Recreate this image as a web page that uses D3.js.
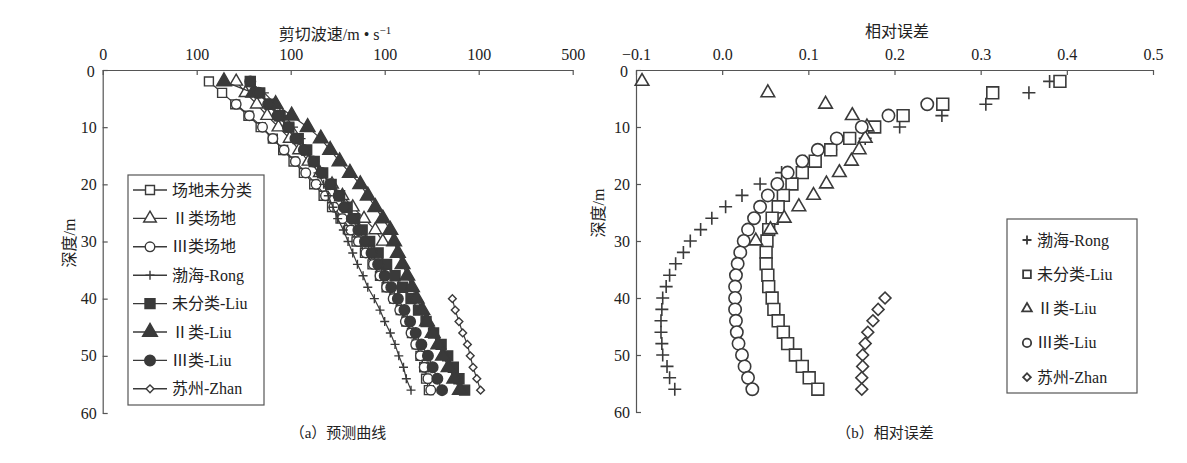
<!DOCTYPE html>
<html>
<head>
<meta charset="utf-8">
<script src="https://cdn.jsdelivr.net/npm/d3@7"></script>
<style>
  html, body { margin: 0; padding: 0; background: #ffffff; }
  svg { display: block; }
  text { font-family: "Liberation Serif", "Noto Sans CJK SC", serif; fill: #222; }
</style>
</head>
<body>
<svg id="chart" width="1187" height="463"></svg>
<script>
// ---------------- DATA ----------------
const depthAll   = [2,4,6,8,10,12,14,16,18,20,22,24,26,28,30,32,34,36,38,40,42,44,46,48,50,52,54,56];
const depthII    = [2,4,6,8,10,12,14,16,18,20,22,24,26,28,30];
const depthIII   = [6,8,10,12,14,16,18,20,22,24,26,28,30,32,34,36,38,40,42,44,46,48,50,52,54,56];
const depthZhan  = [40,42,44,46,48,50,52,54,56];

// (a) predicted shear wave velocity, m/s
const vsUnclassified    = [113,127,141,155,168,181,192,203,214,225,235,244,253,262,270,279,287,295,302,310,317,323,329,334,338,342,344,347];
const vsClassII         = [142,152,164,175,187,199,209,219,231,244,255,266,278,290,298];
const vsClassIII        = [142,156,170,181,193,205,216,227,237,246,255,264,272,280,288,295,302,309,316,322,328,333,338,342,346,349];
const vsRong            = [156,172,184,194,203,211,216,223,229,235,240,245,250,256,261,266,271,277,282,289,295,300,306,311,315,320,323,328];
const vsLiuUnclassified = [157,167,178,188,198,208,217,225,234,243,252,260,268,276,284,293,302,311,319,328,336,344,352,360,367,373,379,385];
const vsLiuII           = [129,160,184,201,218,232,242,252,263,274,282,290,298,306,310,314,319,324,329,334,340,345,351,357,362,368,374,380];
const vsLiuIII          = [157,166,176,186,197,205,214,224,233,242,251,257,265,272,279,286,293,300,307,314,321,327,333,339,346,351,356,361];
const vsZhan            = [372,375,379,383,388,391,394,398,402];

// (b) relative error
const errRong            = [0.380,0.356,0.306,0.255,0.206,0.166,0.126,0.096,0.069,0.044,0.023,0.004,-0.012,-0.025,-0.037,-0.045,-0.054,-0.061,-0.065,-0.069,-0.070,-0.071,-0.071,-0.070,-0.069,-0.064,-0.061,-0.055];
const errLiuUnclassified = [0.392,0.314,0.256,0.210,0.177,0.148,0.126,0.108,0.093,0.081,0.071,0.065,0.058,0.054,0.052,0.051,0.051,0.053,0.054,0.058,0.060,0.065,0.071,0.076,0.085,0.093,0.101,0.111];
const errLiuII           = [-0.093,0.053,0.120,0.151,0.168,0.166,0.159,0.150,0.136,0.121,0.106,0.089,0.072,0.056,0.039];
const errLiuIII          = [0.238,0.193,0.162,0.133,0.111,0.093,0.076,0.064,0.053,0.044,0.037,0.030,0.025,0.021,0.018,0.016,0.015,0.015,0.015,0.016,0.017,0.019,0.023,0.026,0.030,0.035];
const errZhan            = [0.189,0.181,0.175,0.169,0.166,0.163,0.163,0.162,0.162];

// tick labels
const xTicksA      = [0,100,200,300,400,500];
const xTickLabelsA = ["0","100","100","100","100","500"];
const xTicksB      = [-0.1,0.0,0.1,0.2,0.3,0.4,0.5];
const yTicks       = [0,10,20,30,40,50,60];

const titleXA = "剪切波速/m • s";
const titleXB = "相对误差";
const titleY  = "深度/m";
const captionA = "（a）预测曲线";
const captionB = "（b）相对误差";

// ---------------- DRAW ----------------
const svg = d3.select("#chart");
const ink = "#3a3a3a";
const axisColor = "#555";

function plusPath(r) { return `M${-r},0H${r}M0,${-r}V${r}`; }
function marker(g, shape, size, filled, sw) {
  let p;
  if (shape === "plus") {
    p = g.append("path").attr("d", plusPath(size)).attr("fill", "none").attr("stroke", ink).attr("stroke-width", sw);
    return p;
  }
  const type = {square: d3.symbolSquare, triangle: d3.symbolTriangle, circle: d3.symbolCircle, diamond: d3.symbolSquare}[shape];
  p = g.append("path").attr("d", d3.symbol(type, size)())
    .attr("fill", filled ? ink : "#fff")
    .attr("stroke", ink).attr("stroke-width", sw);
  if (shape === "diamond") p.attr("transform", "rotate(45)");
  return p;
}

function styleAxis(g) {
  g.selectAll("path.domain").attr("stroke", axisColor).attr("stroke-width", 1.2);
  g.selectAll(".tick line").attr("stroke", axisColor).attr("stroke-width", 1.2);
  g.selectAll(".tick text").attr("font-size", 16).attr("fill", "#222")
    .attr("font-family", '"Liberation Serif", serif');
}

// ===== Panel (a) =====
const xA = d3.scaleLinear().domain([0,500]).range([102.7,572.7]);
const yA = d3.scaleLinear().domain([0,60]).range([70,413]);

const gxA = svg.append("g").attr("transform", `translate(0,${yA(0)})`)
  .call(d3.axisTop(xA).tickValues(xTicksA).tickFormat((d,i)=>xTickLabelsA[i]).tickSizeInner(-5).tickSizeOuter(0));
styleAxis(gxA);
gxA.selectAll(".tick text").attr("y", -10);

const gyA = svg.append("g").attr("transform", `translate(${xA(0)},0)`)
  .call(d3.axisLeft(yA).tickValues(yTicks).tickSizeInner(-5).tickSizeOuter(0));
styleAxis(gyA);
gyA.selectAll(".tick text").attr("x", -6);
gyA.selectAll(".tick").filter(d => d === 0).select("text").attr("dy", "0.42em").attr("x", -8);

const tA = svg.append("text").attr("x", 335).attr("y", 40).attr("text-anchor", "middle").attr("font-size", 16).text(titleXA);
tA.append("tspan").attr("dy", -6).attr("font-size", 11).text("−1");
svg.append("text").attr("transform", `translate(75,243) rotate(-90)`).attr("text-anchor", "middle").attr("font-size", 16).text(titleY);
svg.append("text").attr("x", 338).attr("y", 438).attr("text-anchor", "middle").attr("font-size", 15).text(captionA);

const seriesA = [
  {name:"场地未分类",  d:depthAll, v:vsUnclassified,    shape:"square",   filled:false, size:80},
  {name:"Ⅱ类场地",    d:depthII,  v:vsClassII,         shape:"triangle", filled:false, size:70},
  {name:"Ⅲ类场地",    d:depthIII, v:vsClassIII,        shape:"circle",   filled:false, size:72},
  {name:"渤海-Rong",  d:depthAll, v:vsRong,            shape:"plus",     filled:false, size:4.5},
  {name:"未分类-Liu",  d:depthAll, v:vsLiuUnclassified, shape:"square",   filled:true,  size:100},
  {name:"Ⅱ类-Liu",    d:depthAll, v:vsLiuII,           shape:"triangle", filled:true,  size:95},
  {name:"Ⅲ类-Liu",    d:depthAll, v:vsLiuIII,          shape:"circle",   filled:true,  size:88},
  {name:"苏州-Zhan",  d:depthZhan,v:vsZhan,            shape:"diamond",  filled:false, size:30}
];

const lineA = d3.line().x(p => xA(p[1])).y(p => yA(p[0]));
seriesA.forEach(s => {
  const pts = s.d.map((d,i) => [d, s.v[i]]);
  svg.append("path").attr("d", lineA(pts)).attr("fill","none").attr("stroke", ink).attr("stroke-width", 1.2);
  const g = svg.append("g");
  pts.forEach(p => {
    const m = g.append("g").attr("transform", `translate(${xA(p[1])},${yA(p[0])})`);
    marker(m, s.shape, s.size, s.filled, 1.4);
  });
});

// legend (a)
const legA = svg.append("g");
legA.append("rect").attr("x", 128).attr("y", 175).attr("width", 136).attr("height", 230)
  .attr("fill", "#fff").attr("stroke", axisColor).attr("stroke-width", 1.2);
seriesA.forEach((s, i) => {
  const cy = 190 + i * 28.4;
  legA.append("line").attr("x1", 133).attr("x2", 167).attr("y1", cy).attr("y2", cy).attr("stroke", ink).attr("stroke-width", 1.4);
  const m = legA.append("g").attr("transform", `translate(150,${cy})`);
  marker(m, s.shape, s.size, s.filled, 1.4);
  legA.append("text").attr("x", 172).attr("y", cy + 5.5).attr("font-size", 16).text(s.name);
});

// ===== Panel (b) =====
const xB = d3.scaleLinear().domain([-0.1,0.5]).range([636,1153]);
const yB = d3.scaleLinear().domain([0,60]).range([70,412]);

const gxB = svg.append("g").attr("transform", `translate(0,${yB(0)})`)
  .call(d3.axisTop(xB).tickValues(xTicksB).tickFormat(d3.format(".1f")).tickSizeInner(-5).tickSizeOuter(0));
styleAxis(gxB);
gxB.selectAll(".tick text").attr("y", -10);

const gyB = svg.append("g").attr("transform", `translate(${xB(-0.1)},0)`)
  .call(d3.axisLeft(yB).tickValues(yTicks).tickSizeInner(-5).tickSizeOuter(0));
styleAxis(gyB);
gyB.selectAll(".tick text").attr("x", -6);
gyB.selectAll(".tick").filter(d => d === 0).select("text").attr("dy", "0.42em").attr("x", -8);

svg.append("text").attr("x", 897).attr("y", 37).attr("text-anchor", "middle").attr("font-size", 16).text(titleXB);
svg.append("text").attr("transform", `translate(604,213) rotate(-90)`).attr("text-anchor", "middle").attr("font-size", 16).text(titleY);
svg.append("text").attr("x", 885).attr("y", 438).attr("text-anchor", "middle").attr("font-size", 15).text(captionB);

const seriesB = [
  {name:"渤海-Rong",  d:depthAll, e:errRong,            shape:"plus",     size:6.5, lsize:4.5},
  {name:"未分类-Liu",  d:depthAll, e:errLiuUnclassified, shape:"square",   size:140, lsize:60},
  {name:"Ⅱ类-Liu",    d:depthII,  e:errLiuII,           shape:"triangle", size:80,  lsize:40},
  {name:"Ⅲ类-Liu",    d:depthIII, e:errLiuIII,          shape:"circle",   size:120, lsize:55},
  {name:"苏州-Zhan",  d:depthZhan,e:errZhan,            shape:"diamond",  size:70,  lsize:30}
];

seriesB.forEach(s => {
  const g = svg.append("g");
  s.d.forEach((d,i) => {
    const m = g.append("g").attr("transform", `translate(${xB(s.e[i])},${yB(d)})`);
    marker(m, s.shape, s.size, false, 1.6);
  });
});

const legB = svg.append("g");
legB.append("rect").attr("x", 1007).attr("y", 219).attr("width", 130).attr("height", 174)
  .attr("fill", "#fff").attr("stroke", axisColor).attr("stroke-width", 1.2);
seriesB.forEach((s, i) => {
  const cy = 240 + i * 34.3;
  const m = legB.append("g").attr("transform", `translate(1027,${cy})`);
  marker(m, s.shape, s.lsize, false, 1.8);
  legB.append("text").attr("x", 1037).attr("y", cy + 5.5).attr("font-size", 16).text(s.name);
});
</script>
</body>
</html>
